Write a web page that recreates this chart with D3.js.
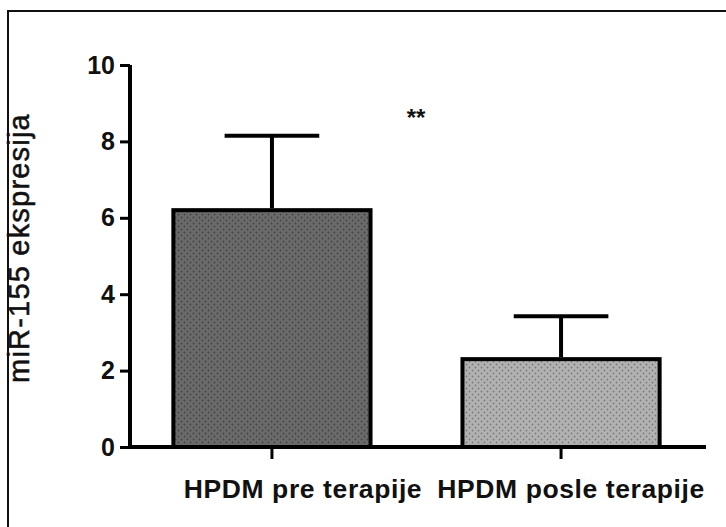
<!DOCTYPE html>
<html>
<head>
<meta charset="utf-8">
<script src="https://cdn.jsdelivr.net/npm/d3@7/dist/d3.min.js"></script>
<style>
  html, body { margin: 0; padding: 0; background: #fff; }
  svg { display: block; }
  text { font-family: "Liberation Sans", Arial, sans-serif; fill: #111; }
</style>
</head>
<body>
<svg id="chart" width="726" height="527"></svg>
<script>
// Group means with their upper error (mean + SD)
const categories = ["HPDM pre terapije", "HPDM posle terapije"];
const means = [6.2, 2.3];
const errorTops = [8.15, 3.42];
const yTicks = [0, 2, 4, 6, 8, 10];
const significance = "**";

const svg = d3.select("#chart");
const W = 726, H = 527;

// outer frame
svg.append("rect")
  .attr("x", 8).attr("y", 11)
  .attr("width", W).attr("height", H)
  .attr("fill", "#fff").attr("stroke", "#111").attr("stroke-width", 2);

// dotted fills
const defs = svg.append("defs");
function dotPattern(id, bg, dot) {
  const p = defs.append("pattern").attr("id", id)
    .attr("patternUnits", "userSpaceOnUse").attr("width", 6).attr("height", 6);
  p.append("rect").attr("width", 6).attr("height", 6).attr("fill", bg);
  p.append("circle").attr("cx", 1.5).attr("cy", 1.5).attr("r", 0.9).attr("fill", dot);
  p.append("circle").attr("cx", 4.5).attr("cy", 4.5).attr("r", 0.9).attr("fill", dot);
}
dotPattern("dotsDark", "#6a6a6a", "#434343");
dotPattern("dotsLight", "#b2b2b2", "#7a7a7a");
const fills = ["url(#dotsDark)", "url(#dotsLight)"];

const x = d3.scaleBand().domain(categories).range([130, 703])
  .paddingInner(0.318).paddingOuter(0.15);
const y = d3.scaleLinear().domain([0, 10]).range([447, 65]);

// bars
svg.append("g").selectAll("rect").data(categories).join("rect")
  .attr("x", d => x(d))
  .attr("y", (d, i) => y(means[i]))
  .attr("width", x.bandwidth())
  .attr("height", (d, i) => y(0) - y(means[i]))
  .attr("fill", (d, i) => fills[i])
  .attr("stroke", "#000").attr("stroke-width", 4);

// error bars (upper only)
const err = svg.append("g").attr("stroke", "#000").attr("stroke-width", 4);
categories.forEach((c, i) => {
  const cx = x(c) + x.bandwidth() / 2;
  const cap = x.bandwidth() * 0.24;
  err.append("line").attr("x1", cx).attr("x2", cx)
    .attr("y1", y(means[i]) - 2).attr("y2", y(errorTops[i]));
  err.append("line").attr("x1", cx - cap).attr("x2", cx + cap)
    .attr("y1", y(errorTops[i])).attr("y2", y(errorTops[i]));
});

// y axis
const yAxis = svg.append("g").attr("transform", "translate(130,0)")
  .call(d3.axisLeft(y).tickValues(yTicks).tickSize(10).tickPadding(5).tickFormat(d3.format("d")));
yAxis.select(".domain").attr("stroke", "#000").attr("stroke-width", 4)
  .attr("d", `M0,${y(10)}V${y(0)}`);
yAxis.selectAll(".tick line").attr("stroke", "#000").attr("stroke-width", 3);
yAxis.selectAll(".tick text").attr("font-size", 25).attr("font-weight", "bold").attr("fill", "#111")
  .attr("font-family", '"Liberation Sans", Arial, sans-serif');

// x axis
const xAxis = svg.append("g").attr("transform", `translate(0,${y(0)})`)
  .call(d3.axisBottom(x).tickSize(12).tickPadding(20));
xAxis.select(".domain").attr("stroke", "#000").attr("stroke-width", 4)
  .attr("d", "M128,0H706");
xAxis.selectAll(".tick line").attr("stroke", "#000").attr("stroke-width", 3);
xAxis.selectAll(".tick text").attr("font-size", 26.5).attr("font-weight", "bold").attr("fill", "#111")
  .attr("font-family", '"Liberation Sans", Arial, sans-serif')
  .attr("letter-spacing", 0.6)
  .attr("dx", (d, i) => i === 0 ? 31 : 10);

// y axis title
svg.append("text")
  .attr("transform", `translate(29,${(y(0) + y(10)) / 2 - 8}) rotate(-90)`)
  .attr("text-anchor", "middle")
  .attr("font-size", 29)
  .attr("letter-spacing", 1.2)
  .attr("stroke", "#111").attr("stroke-width", 0.5)
  .text("miR-155 ekspresija");

// significance marker
svg.append("text")
  .attr("x", 416).attr("y", 126)
  .attr("text-anchor", "middle")
  .attr("font-size", 24).attr("font-weight", "bold")
  .text(significance);
</script>
</body>
</html>
